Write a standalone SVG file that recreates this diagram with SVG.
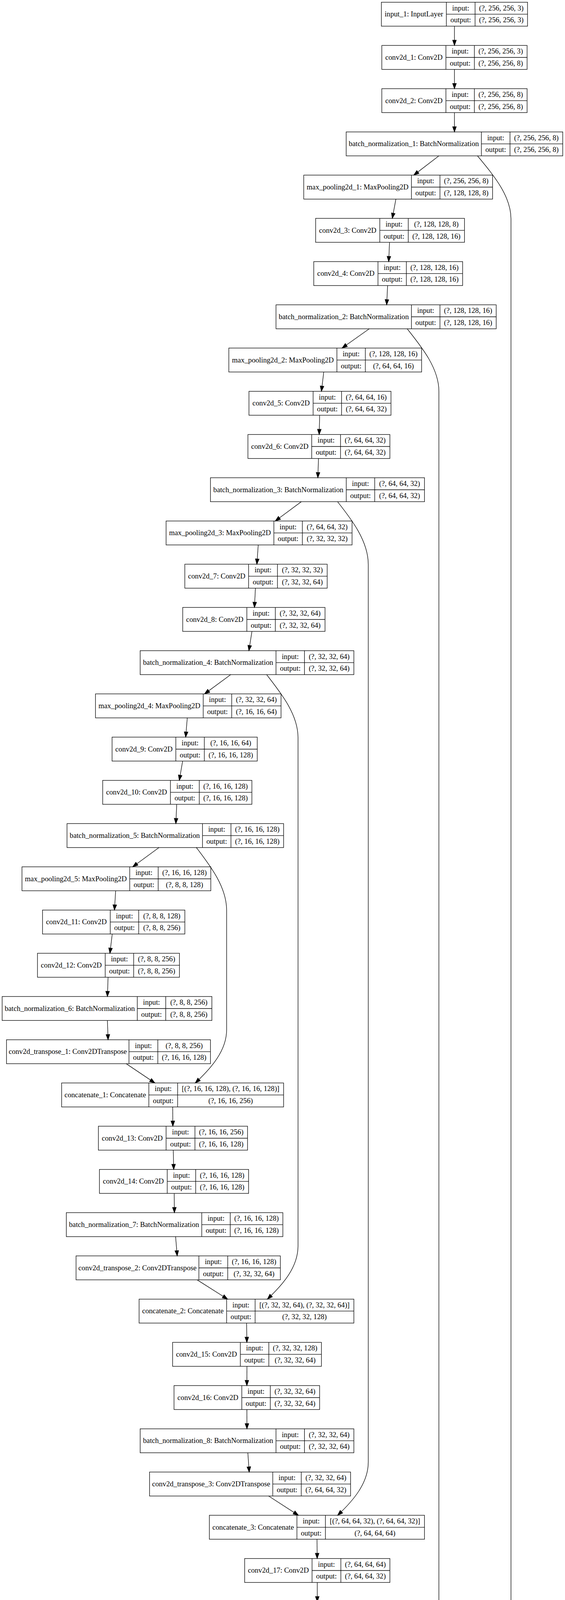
<svg xmlns="http://www.w3.org/2000/svg" width="1446" height="5496" viewBox="0 0 1446 5496">
<style>
.n rect,.n path{fill:none;stroke:#000;stroke-width:1.33}
text{font-family:"Liberation Serif","Times New Roman",serif;font-size:18.67px;text-anchor:middle;fill:#000}
.n text.a{}
#edges path{fill:none;stroke:#000;stroke-width:1.33;marker-end:url(#a)}
</style>
<defs>
<marker id="a" markerUnits="userSpaceOnUse" markerWidth="16" markerHeight="12" viewBox="0 -6 16 12" refX="13.33" refY="0" orient="auto" overflow="visible">
<path d="M0,-4.67L13.33,0L0,4.67z" fill="#000" stroke="#000" stroke-width="1.33"/>
</marker>
</defs>
<rect width="1446" height="5496" fill="#fff"/>
<g id="edges">
<path d="M1163.1 67V116.34"/>
<path d="M1163.1 177.67V227.01"/>
<path d="M1163.1 288.34L1163.15 337.68"/>
<path d="M1123.2 399.01L1058.95 448.35"/>
<path d="M1013.25 509.68L1004 559.02"/>
<path d="M996.9 620.35L994.8 669.69"/>
<path d="M992 731.02L989.6 780.36"/>
<path d="M944.96 841.69L875.5 891.03"/>
<path d="M828.6 952.36L822.6 1001.7"/>
<path d="M818.1 1063.03L816.9 1112.37"/>
<path d="M815.1 1173.7L813.5 1223.04"/>
<path d="M771.1 1284.37L704.5 1333.71"/>
<path d="M660.9 1395.04L657.4 1444.38"/>
<path d="M653.7 1505.71L651.2 1555.05"/>
<path d="M644.8 1616.38L637 1665.72"/>
<path d="M590.5 1727.05L523.5 1776.39"/>
<path d="M479.3 1837.72L475.2 1887.06"/>
<path d="M467.4 1948.39L458.9 1997.73"/>
<path d="M452.3 2059.06L450.05 2108.4"/>
<path d="M406.9 2169.73L339.7 2219.07"/>
<path d="M296 2280.4L292.9 2329.74"/>
<path d="M287.25 2391.07L281.3 2440.41"/>
<path d="M276.6 2501.74L274.9 2551.08"/>
<path d="M274.9 2612.41L276.6 2661.75"/>
<path d="M323.1 2723.08L396.3 2772.42"/>
<path d="M442 2833.75L442.4 2883.09"/>
<path d="M443.4 2944.42L444.6 2993.76"/>
<path d="M445.8 3055.09L446.4 3104.43"/>
<path d="M449.4 3165.76L453.5 3215.1"/>
<path d="M504.5 3276.43L582.4 3325.77"/>
<path d="M631.2 3387.1L631.8 3436.44"/>
<path d="M632 3497.77L631.8 3547.11"/>
<path d="M631.8 3608.44L632 3657.78"/>
<path d="M634.3 3719.11L637.8 3768.45"/>
<path d="M687.4 3829.78L763.7 3879.12"/>
<path d="M811.35 3940.45L811.75 3989.79"/>
<path d="M812 4051.12V4100.46"/>
<path d="M812.1 4161.79L812.4 4211.13"/>
<path d="M813.5 4272.46L815.2 4321.8"/>
<path d="M860.9 4383.13L932.8 4432.47"/>
<path d="M977.9 4493.8L978.6 4543.14"/>
<path d="M979.6 4604.47L980.6 4653.81"/>
<path d="M981.7 4715.14L982.6 4764.48"/>
<path d="M986.4 4825.81L991.8 4875.15"/>
<path d="M1038.3 4936.48L1107.8 4985.82"/>
<path d="M1151.1 5047.15L1151.2 5096.49"/>
<path d="M1151.2 5157.82L1151.1 5207.16"/>
<path d="M1150.95 5268.49L1150.9 5317.83"/>
<path d="M1150.9 5379.16L1150.95 5428.5"/>
<path d="M1222 399C1260 445 1307.7 500 1307.7 560V4850C1307.7 4904 1262 4948.5 1220 4985.82"/>
<path d="M1042.1 841.7C1078 887 1123.3 942 1123.3 1002V4296C1123.3 4350 1085 4395 1044.9 4432.47"/>
<path d="M864.1 1284.6C900 1330 942.5 1385 942.5 1445V3743C942.5 3797 904 3841.6 864.1 3879.12"/>
<path d="M682.4 1727.05C718 1773 762.7 1828 762.7 1888V3190C762.7 3244 724 3288.3 684.3 3325.77"/>
<path d="M502.6 2169.73C537 2215 580 2270 580 2330V2636C580 2690 540 2735 499.8 2772.42"/>
</g>
<g id="input_1" class="n" transform="translate(0,5.67)"><rect x="976.1" width="374" height="61.33"/><path d="M1142.4 0V61.33M1215.8 0V61.33M1142.4 30.67H1350.1"/><text x="1059.3" y="36.7">input_1: InputLayer</text><text x="1179.1" y="20.9">input:</text><text x="1179.1" y="51.6">output:</text><text x="1283" y="20.9">(?, 256, 256, 3)</text><text x="1283" y="51.6">(?, 256, 256, 3)</text></g>
<g id="conv2d_1" class="n" transform="translate(0,116.34)"><rect x="977.2" width="371.8" height="61.33"/><path d="M1141.3 0V61.33M1214.1 0V61.33M1141.3 30.67H1349"/><text x="1059.3" y="36.7">conv2d_1: Conv2D</text><text x="1177.7" y="20.9">input:</text><text x="1177.7" y="51.6">output:</text><text x="1281.6" y="20.9">(?, 256, 256, 3)</text><text x="1281.6" y="51.6">(?, 256, 256, 8)</text></g>
<g id="conv2d_2" class="n" transform="translate(0,227.01)"><rect x="977.2" width="371.8" height="61.33"/><path d="M1141.3 0V61.33M1214.1 0V61.33M1141.3 30.67H1349"/><text x="1059.3" y="36.7">conv2d_2: Conv2D</text><text x="1177.7" y="20.9">input:</text><text x="1177.7" y="51.6">output:</text><text x="1281.6" y="20.9">(?, 256, 256, 8)</text><text x="1281.6" y="51.6">(?, 256, 256, 8)</text></g>
<g id="batch_normalization_1" class="n" transform="translate(0,337.68)"><rect x="886" width="554.3" height="61.33"/><path d="M1232 0V61.33M1305.3 0V61.33M1232 30.67H1440.3"/><text x="1059" y="36.7">batch_normalization_1: BatchNormalization</text><text x="1268.7" y="20.9">input:</text><text x="1268.7" y="51.6">output:</text><text x="1372.8" y="20.9">(?, 256, 256, 8)</text><text x="1372.8" y="51.6">(?, 256, 256, 8)</text></g>
<g id="max_pooling2d_1" class="n" transform="translate(0,448.35)"><rect x="777.4" width="483.2" height="61.33"/><path d="M1053 0V61.33M1126 0V61.33M1053 30.67H1260.6"/><text x="915.2" y="36.7">max_pooling2d_1: MaxPooling2D</text><text x="1089.5" y="20.9">input:</text><text x="1089.5" y="51.6">output:</text><text x="1193.3" y="20.9">(?, 256, 256, 8)</text><text x="1193.3" y="51.6">(?, 128, 128, 8)</text></g>
<g id="conv2d_3" class="n" transform="translate(0,559.02)"><rect x="807.8" width="380.9" height="61.33"/><path d="M972 0V61.33M1044.8 0V61.33M972 30.67H1188.7"/><text x="889.9" y="36.7">conv2d_3: Conv2D</text><text x="1008.4" y="20.9">input:</text><text x="1008.4" y="51.6">output:</text><text x="1116.8" y="20.9">(?, 128, 128, 8)</text><text x="1116.8" y="51.6">(?, 128, 128, 16)</text></g>
<g id="conv2d_4" class="n" transform="translate(0,669.69)"><rect x="803" width="381" height="61.33"/><path d="M967.4 0V61.33M1040 0V61.33M967.4 30.67H1184"/><text x="885.2" y="36.7">conv2d_4: Conv2D</text><text x="1003.7" y="20.9">input:</text><text x="1003.7" y="51.6">output:</text><text x="1112" y="20.9">(?, 128, 128, 16)</text><text x="1112" y="51.6">(?, 128, 128, 16)</text></g>
<g id="batch_normalization_2" class="n" transform="translate(0,780.36)"><rect x="706.4" width="563.5" height="61.33"/><path d="M1053 0V61.33M1126 0V61.33M1053 30.67H1269.9"/><text x="879.7" y="36.7">batch_normalization_2: BatchNormalization</text><text x="1089.5" y="20.9">input:</text><text x="1089.5" y="51.6">output:</text><text x="1198" y="20.9">(?, 128, 128, 16)</text><text x="1198" y="51.6">(?, 128, 128, 16)</text></g>
<g id="max_pooling2d_2" class="n" transform="translate(0,891.03)"><rect x="585.6" width="493.4" height="61.33"/><path d="M862.3 0V61.33M935 0V61.33M862.3 30.67H1079"/><text x="724" y="36.7">max_pooling2d_2: MaxPooling2D</text><text x="898.7" y="20.9">input:</text><text x="898.7" y="51.6">output:</text><text x="1007" y="20.9">(?, 128, 128, 16)</text><text x="1007" y="51.6">(?, 64, 64, 16)</text></g>
<g id="conv2d_5" class="n" transform="translate(0,1001.7)"><rect x="637.2" width="363.4" height="61.33"/><path d="M801.4 0V61.33M874.2 0V61.33M801.4 30.67H1000.6"/><text x="719.3" y="36.7">conv2d_5: Conv2D</text><text x="837.8" y="20.9">input:</text><text x="837.8" y="51.6">output:</text><text x="937.4" y="20.9">(?, 64, 64, 16)</text><text x="937.4" y="51.6">(?, 64, 64, 32)</text></g>
<g id="conv2d_6" class="n" transform="translate(0,1112.37)"><rect x="634.5" width="363.3" height="61.33"/><path d="M797.7 0V61.33M871.5 0V61.33M797.7 30.67H997.8"/><text x="716.1" y="36.7">conv2d_6: Conv2D</text><text x="834.6" y="20.9">input:</text><text x="834.6" y="51.6">output:</text><text x="934.7" y="20.9">(?, 64, 64, 32)</text><text x="934.7" y="51.6">(?, 64, 64, 32)</text></g>
<g id="batch_normalization_3" class="n" transform="translate(0,1223.04)"><rect x="538.6" width="547.8" height="61.33"/><path d="M886.2 0V61.33M959 0V61.33M886.2 30.67H1086.4"/><text x="712.4" y="36.7">batch_normalization_3: BatchNormalization</text><text x="922.6" y="20.9">input:</text><text x="922.6" y="51.6">output:</text><text x="1022.7" y="20.9">(?, 64, 64, 32)</text><text x="1022.7" y="51.6">(?, 64, 64, 32)</text></g>
<g id="max_pooling2d_3" class="n" transform="translate(0,1333.71)"><rect x="425.1" width="475.9" height="61.33"/><path d="M700.9 0V61.33M773.7 0V61.33M700.9 30.67H901"/><text x="563" y="36.7">max_pooling2d_3: MaxPooling2D</text><text x="737.3" y="20.9">input:</text><text x="737.3" y="51.6">output:</text><text x="837.4" y="20.9">(?, 64, 64, 32)</text><text x="837.4" y="51.6">(?, 32, 32, 32)</text></g>
<g id="conv2d_7" class="n" transform="translate(0,1444.38)"><rect x="473" width="364.4" height="61.33"/><path d="M636.3 0V61.33M710.1 0V61.33M636.3 30.67H837.4"/><text x="554.7" y="36.7">conv2d_7: Conv2D</text><text x="673.2" y="20.9">input:</text><text x="673.2" y="51.6">output:</text><text x="773.8" y="20.9">(?, 32, 32, 32)</text><text x="773.8" y="51.6">(?, 32, 32, 64)</text></g>
<g id="conv2d_8" class="n" transform="translate(0,1555.05)"><rect x="467.6" width="364.2" height="61.33"/><path d="M631.7 0V61.33M704.6 0V61.33M631.7 30.67H831.8"/><text x="549.7" y="36.7">conv2d_8: Conv2D</text><text x="668.2" y="20.9">input:</text><text x="668.2" y="51.6">output:</text><text x="768.2" y="20.9">(?, 32, 32, 64)</text><text x="768.2" y="51.6">(?, 32, 32, 64)</text></g>
<g id="batch_normalization_4" class="n" transform="translate(0,1665.72)"><rect x="358.7" width="546.9" height="61.33"/><path d="M706.4 0V61.33M779.3 0V61.33M706.4 30.67H905.6"/><text x="532.6" y="36.7">batch_normalization_4: BatchNormalization</text><text x="742.9" y="20.9">input:</text><text x="742.9" y="51.6">output:</text><text x="842.5" y="20.9">(?, 32, 32, 64)</text><text x="842.5" y="51.6">(?, 32, 32, 64)</text></g>
<g id="max_pooling2d_4" class="n" transform="translate(0,1776.39)"><rect x="244.4" width="474.9" height="61.33"/><path d="M520.1 0V61.33M593 0V61.33M520.1 30.67H719.3"/><text x="382.3" y="36.7">max_pooling2d_4: MaxPooling2D</text><text x="556.6" y="20.9">input:</text><text x="556.6" y="51.6">output:</text><text x="656.2" y="20.9">(?, 32, 32, 64)</text><text x="656.2" y="51.6">(?, 16, 16, 64)</text></g>
<g id="conv2d_9" class="n" transform="translate(0,1887.06)"><rect x="286.8" width="371.6" height="61.33"/><path d="M450 0V61.33M522.9 0V61.33M450 30.67H658.4"/><text x="368.4" y="36.7">conv2d_9: Conv2D</text><text x="486.5" y="20.9">input:</text><text x="486.5" y="51.6">output:</text><text x="590.7" y="20.9">(?, 16, 16, 64)</text><text x="590.7" y="51.6">(?, 16, 16, 128)</text></g>
<g id="conv2d_10" class="n" transform="translate(0,1997.73)"><rect x="262.8" width="381.8" height="61.33"/><path d="M436.2 0V61.33M510 0V61.33M436.2 30.67H644.6"/><text x="349.5" y="36.7">conv2d_10: Conv2D</text><text x="473.1" y="20.9">input:</text><text x="473.1" y="51.6">output:</text><text x="577.3" y="20.9">(?, 16, 16, 128)</text><text x="577.3" y="51.6">(?, 16, 16, 128)</text></g>
<g id="batch_normalization_5" class="n" transform="translate(0,2108.4)"><rect x="171.5" width="554.3" height="61.33"/><path d="M518.3 0V61.33M591.1 0V61.33M518.3 30.67H725.8"/><text x="344.9" y="36.7">batch_normalization_5: BatchNormalization</text><text x="554.7" y="20.9">input:</text><text x="554.7" y="51.6">output:</text><text x="658.5" y="20.9">(?, 16, 16, 128)</text><text x="658.5" y="51.6">(?, 16, 16, 128)</text></g>
<g id="max_pooling2d_5" class="n" transform="translate(0,2219.07)"><rect x="56.3" width="483.2" height="61.33"/><path d="M332 0V61.33M404.8 0V61.33M332 30.67H539.5"/><text x="194.2" y="36.7">max_pooling2d_5: MaxPooling2D</text><text x="368.4" y="20.9">input:</text><text x="368.4" y="51.6">output:</text><text x="472.2" y="20.9">(?, 16, 16, 128)</text><text x="472.2" y="51.6">(?, 8, 8, 128)</text></g>
<g id="conv2d_11" class="n" transform="translate(0,2329.74)"><rect x="108.8" width="364.3" height="61.33"/><path d="M282.2 0V61.33M355 0V61.33M282.2 30.67H473.1"/><text x="195.5" y="36.7">conv2d_11: Conv2D</text><text x="318.6" y="20.9">input:</text><text x="318.6" y="51.6">output:</text><text x="414.1" y="20.9">(?, 8, 8, 128)</text><text x="414.1" y="51.6">(?, 8, 8, 256)</text></g>
<g id="conv2d_12" class="n" transform="translate(0,2440.41)"><rect x="95.9" width="363.4" height="61.33"/><path d="M269.3 0V61.33M342.1 0V61.33M269.3 30.67H459.3"/><text x="182.6" y="36.7">conv2d_12: Conv2D</text><text x="305.7" y="20.9">input:</text><text x="305.7" y="51.6">output:</text><text x="400.7" y="20.9">(?, 8, 8, 256)</text><text x="400.7" y="51.6">(?, 8, 8, 256)</text></g>
<g id="batch_normalization_6" class="n" transform="translate(0,2551.08)"><rect x="5.5" width="536.8" height="61.33"/><path d="M351.4 0V61.33M424.2 0V61.33M351.4 30.67H542.3"/><text x="178.5" y="36.7">batch_normalization_6: BatchNormalization</text><text x="387.8" y="20.9">input:</text><text x="387.8" y="51.6">output:</text><text x="483.3" y="20.9">(?, 8, 8, 256)</text><text x="483.3" y="51.6">(?, 8, 8, 256)</text></g>
<g id="conv2d_transpose_1" class="n" transform="translate(0,2661.75)"><rect x="16.6" width="522" height="61.33"/><path d="M330.1 0V61.33M403.9 0V61.33M330.1 30.67H538.6"/><text x="173.4" y="36.7">conv2d_transpose_1: Conv2DTranspose</text><text x="367" y="20.9">input:</text><text x="367" y="51.6">output:</text><text x="471.3" y="20.9">(?, 8, 8, 256)</text><text x="471.3" y="51.6">(?, 16, 16, 128)</text></g>
<g id="concatenate_1" class="n" transform="translate(0,2772.42)"><rect x="157.7" width="568.1" height="61.33"/><path d="M380.9 0V61.33M454.6 0V61.33M380.9 30.67H725.8"/><text x="269.3" y="36.7">concatenate_1: Concatenate</text><text x="417.8" y="20.9">input:</text><text x="417.8" y="51.6">output:</text><text x="590.2" y="20.9">[(?, 16, 16, 128), (?, 16, 16, 128)]</text><text x="590.2" y="51.6">(?, 16, 16, 256)</text></g>
<g id="conv2d_13" class="n" transform="translate(0,2883.09)"><rect x="251.8" width="381.7" height="61.33"/><path d="M425.1 0V61.33M498.9 0V61.33M425.1 30.67H633.5"/><text x="338.5" y="36.7">conv2d_13: Conv2D</text><text x="462" y="20.9">input:</text><text x="462" y="51.6">output:</text><text x="566.2" y="20.9">(?, 16, 16, 256)</text><text x="566.2" y="51.6">(?, 16, 16, 128)</text></g>
<g id="conv2d_14" class="n" transform="translate(0,2993.76)"><rect x="254.5" width="381.8" height="61.33"/><path d="M428 0V61.33M500.8 0V61.33M428 30.67H636.3"/><text x="341.3" y="36.7">conv2d_14: Conv2D</text><text x="464.4" y="20.9">input:</text><text x="464.4" y="51.6">output:</text><text x="568.6" y="20.9">(?, 16, 16, 128)</text><text x="568.6" y="51.6">(?, 16, 16, 128)</text></g>
<g id="batch_normalization_7" class="n" transform="translate(0,3104.43)"><rect x="169.7" width="554.2" height="61.33"/><path d="M516.4 0V61.33M589.3 0V61.33M516.4 30.67H723.9"/><text x="343.1" y="36.7">batch_normalization_7: BatchNormalization</text><text x="552.9" y="20.9">input:</text><text x="552.9" y="51.6">output:</text><text x="656.6" y="20.9">(?, 16, 16, 128)</text><text x="656.6" y="51.6">(?, 16, 16, 128)</text></g>
<g id="conv2d_transpose_2" class="n" transform="translate(0,3215.1)"><rect x="194.6" width="522.9" height="61.33"/><path d="M509 0V61.33M582.8 0V61.33M509 30.67H717.5"/><text x="351.8" y="36.7">conv2d_transpose_2: Conv2DTranspose</text><text x="545.9" y="20.9">input:</text><text x="545.9" y="51.6">output:</text><text x="650.2" y="20.9">(?, 16, 16, 128)</text><text x="650.2" y="51.6">(?, 32, 32, 64)</text></g>
<g id="concatenate_2" class="n" transform="translate(0,3325.77)"><rect x="356" width="549.6" height="61.33"/><path d="M580 0V61.33M652.9 0V61.33M580 30.67H905.6"/><text x="468" y="36.7">concatenate_2: Concatenate</text><text x="616.5" y="20.9">input:</text><text x="616.5" y="51.6">output:</text><text x="779.3" y="20.9">[(?, 32, 32, 64), (?, 32, 32, 64)]</text><text x="779.3" y="51.6">(?, 32, 32, 128)</text></g>
<g id="conv2d_15" class="n" transform="translate(0,3436.44)"><rect x="441.7" width="380.9" height="61.33"/><path d="M615.1 0V61.33M688 0V61.33M615.1 30.67H822.6"/><text x="528.4" y="36.7">conv2d_15: Conv2D</text><text x="651.6" y="20.9">input:</text><text x="651.6" y="51.6">output:</text><text x="755.3" y="20.9">(?, 32, 32, 128)</text><text x="755.3" y="51.6">(?, 32, 32, 64)</text></g>
<g id="conv2d_16" class="n" transform="translate(0,3547.11)"><rect x="445.4" width="372.6" height="61.33"/><path d="M618.8 0V61.33M691.7 0V61.33M618.8 30.67H818"/><text x="532.1" y="36.7">conv2d_16: Conv2D</text><text x="655.3" y="20.9">input:</text><text x="655.3" y="51.6">output:</text><text x="754.9" y="20.9">(?, 32, 32, 64)</text><text x="754.9" y="51.6">(?, 32, 32, 64)</text></g>
<g id="batch_normalization_8" class="n" transform="translate(0,3657.78)"><rect x="358.7" width="546.9" height="61.33"/><path d="M706.4 0V61.33M779.3 0V61.33M706.4 30.67H905.6"/><text x="532.6" y="36.7">batch_normalization_8: BatchNormalization</text><text x="742.9" y="20.9">input:</text><text x="742.9" y="51.6">output:</text><text x="842.5" y="20.9">(?, 32, 32, 64)</text><text x="842.5" y="51.6">(?, 32, 32, 64)</text></g>
<g id="conv2d_transpose_3" class="n" transform="translate(0,3768.45)"><rect x="382.7" width="514.6" height="61.33"/><path d="M698.1 0V61.33M771 0V61.33M698.1 30.67H897.3"/><text x="540.4" y="36.7">conv2d_transpose_3: Conv2DTranspose</text><text x="734.6" y="20.9">input:</text><text x="734.6" y="51.6">output:</text><text x="834.2" y="20.9">(?, 32, 32, 64)</text><text x="834.2" y="51.6">(?, 64, 64, 32)</text></g>
<g id="concatenate_3" class="n" transform="translate(0,3879.12)"><rect x="535.8" width="550.6" height="61.33"/><path d="M759.9 0V61.33M832.8 0V61.33M759.9 30.67H1086.4"/><text x="647.9" y="36.7">concatenate_3: Concatenate</text><text x="796.4" y="20.9">input:</text><text x="796.4" y="51.6">output:</text><text x="959.6" y="20.9">[(?, 64, 64, 32), (?, 64, 64, 32)]</text><text x="959.6" y="51.6">(?, 64, 64, 64)</text></g>
<g id="conv2d_17" class="n" transform="translate(0,3989.79)"><rect x="626.2" width="371.6" height="61.33"/><path d="M798.6 0V61.33M872.4 0V61.33M798.6 30.67H997.8"/><text x="712.4" y="36.7">conv2d_17: Conv2D</text><text x="835.5" y="20.9">input:</text><text x="835.5" y="51.6">output:</text><text x="935.1" y="20.9">(?, 64, 64, 64)</text><text x="935.1" y="51.6">(?, 64, 64, 32)</text></g>
<g id="conv2d_18" class="n" transform="translate(0,4100.46)"><rect x="626.2" width="371.6" height="61.33"/><path d="M798.6 0V61.33M872.4 0V61.33M798.6 30.67H997.8"/><text x="712.4" y="36.7">conv2d_18: Conv2D</text><text x="835.5" y="20.9">input:</text><text x="835.5" y="51.6">output:</text><text x="935.1" y="20.9">(?, 64, 64, 32)</text><text x="935.1" y="51.6">(?, 64, 64, 32)</text></g>
<g id="batch_normalization_9" class="n" transform="translate(0,4211.13)"><rect x="538.6" width="547.8" height="61.33"/><path d="M886.2 0V61.33M959 0V61.33M886.2 30.67H1086.4"/><text x="712.4" y="36.7">batch_normalization_9: BatchNormalization</text><text x="922.6" y="20.9">input:</text><text x="922.6" y="51.6">output:</text><text x="1022.7" y="20.9">(?, 64, 64, 32)</text><text x="1022.7" y="51.6">(?, 64, 64, 32)</text></g>
<g id="conv2d_transpose_4" class="n" transform="translate(0,4321.8)"><rect x="550.6" width="531.2" height="61.33"/><path d="M865 0V61.33M938.8 0V61.33M865 30.67H1081.8"/><text x="707.8" y="36.7">conv2d_transpose_4: Conv2DTranspose</text><text x="901.9" y="20.9">input:</text><text x="901.9" y="51.6">output:</text><text x="1010.3" y="20.9">(?, 64, 64, 32)</text><text x="1010.3" y="51.6">(?, 128, 128, 16)</text></g>
<g id="concatenate_4" class="n" transform="translate(0,4432.47)"><rect x="685.2" width="584.7" height="61.33"/><path d="M909.3 0V61.33M983.1 0V61.33M909.3 30.67H1269.9"/><text x="797.3" y="36.7">concatenate_4: Concatenate</text><text x="946.2" y="20.9">input:</text><text x="946.2" y="51.6">output:</text><text x="1126.5" y="20.9">[(?, 128, 128, 16), (?, 128, 128, 16)]</text><text x="1126.5" y="51.6">(?, 128, 128, 32)</text></g>
<g id="conv2d_19" class="n" transform="translate(0,4543.14)"><rect x="783.9" width="390.1" height="61.33"/><path d="M957.3 0V61.33M1030.1 0V61.33M957.3 30.67H1174"/><text x="870.6" y="36.7">conv2d_19: Conv2D</text><text x="993.7" y="20.9">input:</text><text x="993.7" y="51.6">output:</text><text x="1102.1" y="20.9">(?, 128, 128, 32)</text><text x="1102.1" y="51.6">(?, 128, 128, 16)</text></g>
<g id="conv2d_20" class="n" transform="translate(0,4653.81)"><rect x="785.7" width="391" height="61.33"/><path d="M960 0V61.33M1032.9 0V61.33M960 30.67H1176.7"/><text x="872.9" y="36.7">conv2d_20: Conv2D</text><text x="996.5" y="20.9">input:</text><text x="996.5" y="51.6">output:</text><text x="1104.8" y="20.9">(?, 128, 128, 16)</text><text x="1104.8" y="51.6">(?, 128, 128, 16)</text></g>
<g id="batch_normalization_10" class="n" transform="translate(0,4764.48)"><rect x="697.2" width="571.8" height="61.33"/><path d="M1052.2 0V61.33M1125.1 0V61.33M1052.2 30.67H1269"/><text x="874.7" y="36.7">batch_normalization_10: BatchNormalization</text><text x="1088.7" y="20.9">input:</text><text x="1088.7" y="51.6">output:</text><text x="1197.1" y="20.9">(?, 128, 128, 16)</text><text x="1197.1" y="51.6">(?, 128, 128, 16)</text></g>
<g id="conv2d_transpose_5" class="n" transform="translate(0,4875.15)"><rect x="729.5" width="531.2" height="61.33"/><path d="M1043.9 0V61.33M1116.8 0V61.33M1043.9 30.67H1260.7"/><text x="886.7" y="36.7">conv2d_transpose_5: Conv2DTranspose</text><text x="1080.4" y="20.9">input:</text><text x="1080.4" y="51.6">output:</text><text x="1188.8" y="20.9">(?, 128, 128, 16)</text><text x="1188.8" y="51.6">(?, 256, 256, 8)</text></g>
<g id="concatenate_5" class="n" transform="translate(0,4985.82)"><rect x="866.9" width="568.1" height="61.33"/><path d="M1091 0V61.33M1164.7 0V61.33M1091 30.67H1435"/><text x="979" y="36.7">concatenate_5: Concatenate</text><text x="1127.9" y="20.9">input:</text><text x="1127.9" y="51.6">output:</text><text x="1299.9" y="20.9">[(?, 256, 256, 8), (?, 256, 256, 8)]</text><text x="1299.9" y="51.6">(?, 256, 256, 16)</text></g>
<g id="conv2d_21" class="n" transform="translate(0,5096.49)"><rect x="956.3" width="390.1" height="61.33"/><path d="M1128.8 0V61.33M1202.6 0V61.33M1128.8 30.67H1346.4"/><text x="1042.6" y="36.7">conv2d_21: Conv2D</text><text x="1165.7" y="20.9">input:</text><text x="1165.7" y="51.6">output:</text><text x="1274.5" y="20.9">(?, 256, 256, 16)</text><text x="1274.5" y="51.6">(?, 256, 256, 8)</text></g>
<g id="conv2d_22" class="n" transform="translate(0,5207.16)"><rect x="961" width="379.9" height="61.33"/><path d="M1133.4 0V61.33M1207.2 0V61.33M1133.4 30.67H1340.9"/><text x="1047.2" y="36.7">conv2d_22: Conv2D</text><text x="1170.3" y="20.9">input:</text><text x="1170.3" y="51.6">output:</text><text x="1274.1" y="20.9">(?, 256, 256, 8)</text><text x="1274.1" y="51.6">(?, 256, 256, 8)</text></g>
<g id="batch_normalization_11" class="n" transform="translate(0,5317.83)"><rect x="869.6" width="562.6" height="61.33"/><path d="M1223.8 0V61.33M1297.5 0V61.33M1223.8 30.67H1432.2"/><text x="1046.7" y="36.7">batch_normalization_11: BatchNormalization</text><text x="1260.7" y="20.9">input:</text><text x="1260.7" y="51.6">output:</text><text x="1364.9" y="20.9">(?, 256, 256, 8)</text><text x="1364.9" y="51.6">(?, 256, 256, 8)</text></g>
<g id="conv2d_23" class="n" transform="translate(0,5428.5)"><rect x="961" width="379.9" height="61.33"/><path d="M1133.4 0V61.33M1207.2 0V61.33M1133.4 30.67H1340.9"/><text x="1047.2" y="36.7">conv2d_23: Conv2D</text><text x="1170.3" y="20.9">input:</text><text x="1170.3" y="51.6">output:</text><text x="1274.1" y="20.9">(?, 256, 256, 8)</text><text x="1274.1" y="51.6">(?, 256, 256, 1)</text></g>
</svg>
